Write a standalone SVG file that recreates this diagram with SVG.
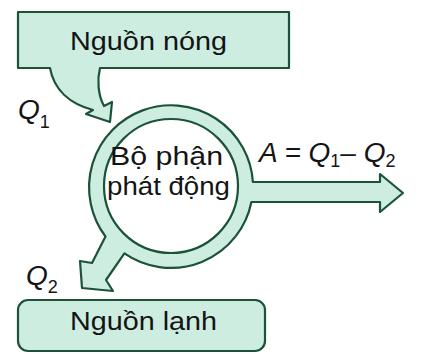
<svg xmlns="http://www.w3.org/2000/svg" width="421" height="354" viewBox="0 0 421 354">
  <style>
    .shape { fill: #cdede0; stroke: #1b5239; stroke-width: 2.2; stroke-linejoin: round; }
    .hole { fill: #ffffff; stroke: #1b5239; stroke-width: 2.2; }
    .lbl { font-family: "Liberation Sans", Arial, sans-serif; font-size: 25px; fill: #141414; }
    .math { font-family: "Liberation Sans", Arial, sans-serif; font-size: 28px; font-style: italic; fill: #141414; }
    .sub { font-family: "Liberation Sans", Arial, sans-serif; font-size: 18px; font-style: normal; fill: #141414; }
  </style>
  <rect width="421" height="354" fill="#ffffff"/>

  <g id="hot">
    <path class="shape" d="M18,12 H289 V68 H100 C97,80 98,95 104,106 L112,102 L110,122 L86,114 L93,110 C70,104 54,90 50,68 H18 Z"/>
    <text class="lbl" x="70" y="50" textLength="157" lengthAdjust="spacingAndGlyphs">Nguồn nóng</text>
  </g>

  <g id="engine">
    <path class="shape" d="M252.9,182 L380,182 L380,174 L403,193 L380,212 L380,202 L251.4,202 A82,82 0 0 1 124.4,253.4 L106,280 L113,291 L82,288 L80,261 L92,263 L105.5,236.5 A82,82 0 1 1 252.9,182 Z"/>
    <circle class="hole" cx="171" cy="186" r="67"/>
    <text class="lbl" x="110" y="165" textLength="113" lengthAdjust="spacingAndGlyphs">Bộ phận</text>
    <text class="lbl" x="107" y="195" textLength="123" lengthAdjust="spacingAndGlyphs">phát động</text>
  </g>

  <g id="cold">
    <rect class="shape" x="18" y="300" width="247" height="51" rx="10" ry="10"/>
    <text class="lbl" x="70" y="330" textLength="147" lengthAdjust="spacingAndGlyphs">Nguồn lạnh</text>
  </g>

  <g id="connectors">
    <text class="math" x="18" y="119">Q<tspan class="sub" dy="9">1</tspan></text>
    <text class="math" x="26" y="285">Q<tspan class="sub" dy="8">2</tspan></text>
    <text class="math" x="259" y="162">A = Q<tspan class="sub" dy="5">1</tspan><tspan dy="-5">– Q</tspan><tspan class="sub" dy="5">2</tspan></text>
  </g>
</svg>
